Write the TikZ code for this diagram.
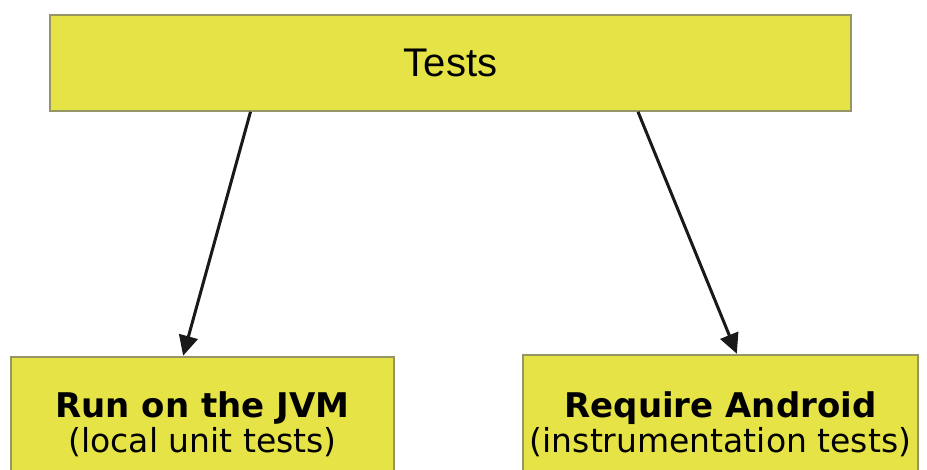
\documentclass[tikz,border=0pt]{standalone}
\usepackage{fontspec}
\setmainfont{DejaVu Sans}
\newfontfamily\arialfont{Liberation Sans}
\usetikzlibrary{arrows.meta,calc}
\definecolor{boxfill}{RGB}{230,227,70}
\definecolor{boxline}{RGB}{150,150,100}
\tikzset{
  box/.style={draw=boxline, line width=1.6pt, fill=boxfill, rectangle, inner sep=0pt, align=center, text=black},
  conn/.style={line width=3pt, draw=black!90, -{Triangle[length=20pt,width=19pt]}, shorten >=0.5pt}
}
\begin{document}
\begin{tikzpicture}[x=1pt,y=1pt]
\useasboundingbox (0,0) rectangle (927,470);
\clip (0,0) rectangle (927,470);
\fill[white] (0,0) rectangle (927,470);
\node[box, minimum width=801pt, minimum height=96pt, font=\arialfont\fontsize{40}{44}\selectfont] (top) at (450.5,407) {Tests};
\node[box, minimum width=383pt, minimum height=134pt, font=\fontsize{34}{35}\selectfont] (jvm) at (202.5,46) {\textbf{Run on the JVM}\\{\fontsize{33}{35}\selectfont(local unit tests)}};
\node[box, minimum width=395pt, minimum height=138pt, font=\fontsize{34}{35}\selectfont] (andr) at (720.5,46) {\textbf{Require Android}\\{\fontsize{33}{35}\selectfont(instrumentation tests)}};
\draw[conn] ([xshift=-200pt]top.south) -- ([xshift=-19.5pt]jvm.north);
\draw[conn] ([xshift=187.5pt]top.south) -- ([xshift=16.5pt]andr.north);
\end{tikzpicture}
\end{document}
